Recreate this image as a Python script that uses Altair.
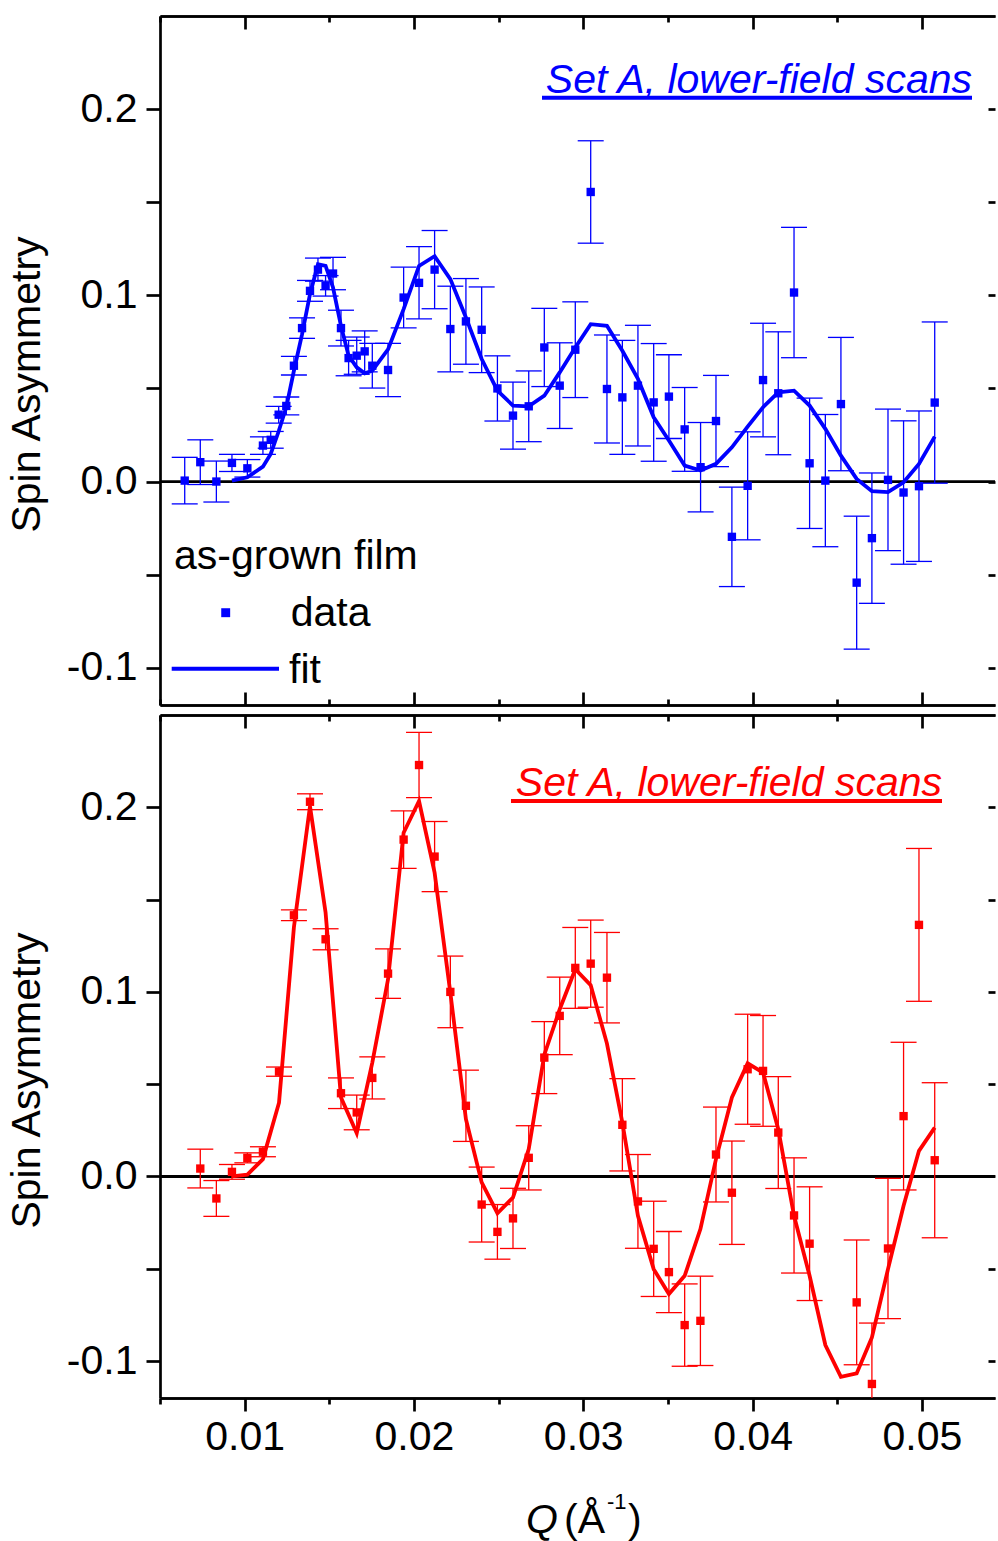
import altair as alt
import pandas as pd

# ---------------- as-grown film (top panel) ----------------
q_a = [0.00646, 0.00738, 0.00833, 0.00925, 0.01016, 0.01108, 0.01154, 0.01201,
       0.01246, 0.01291, 0.01339, 0.01386, 0.01433, 0.01478, 0.01522, 0.01569,
       0.01614, 0.01662, 0.01709, 0.01754, 0.01847, 0.01939, 0.02030, 0.02122,
       0.02215, 0.02307, 0.02400, 0.02493, 0.02585, 0.02678, 0.02770, 0.02861,
       0.02953, 0.03044, 0.03140, 0.03231, 0.03323, 0.03416, 0.03506, 0.03599,
       0.03693, 0.03784, 0.03878, 0.03971, 0.04062, 0.04152, 0.04245, 0.04337,
       0.04430, 0.04522, 0.04615, 0.04705, 0.04800, 0.04892, 0.04983, 0.05076]
sa_a = [0.0005, 0.0104, 0.0000, 0.0100, 0.0071, 0.0193, 0.0224, 0.0359,
        0.0406, 0.0622, 0.0824, 0.1024, 0.1138, 0.1051, 0.1117, 0.0824,
        0.0663, 0.0676, 0.0699, 0.0622, 0.0599, 0.0988, 0.1067, 0.1138,
        0.0819, 0.0860, 0.0815, 0.0500, 0.0354, 0.0404, 0.0720, 0.0515,
        0.0708, 0.1555, 0.0497, 0.0452, 0.0515, 0.0425, 0.0456, 0.0280,
        0.0077, 0.0325, -0.0297, -0.0023, 0.0545, 0.0474, 0.1015, 0.0098,
        0.0005, 0.0416, -0.0543, -0.0304, 0.0009, -0.0059, -0.0025, 0.0424]
err_a = [0.0125, 0.0120, 0.0110, 0.0046, 0.0047, 0.0047, 0.0045, 0.0045,
         0.0048, 0.0050, 0.0055, 0.0056, 0.0062, 0.0055, 0.0087, 0.0096,
         0.0095, 0.0100, 0.0110, 0.0120, 0.0143, 0.0163, 0.0194, 0.0210,
         0.0230, 0.0230, 0.0230, 0.0175, 0.0180, 0.0190, 0.0210, 0.0230,
         0.0257, 0.0275, 0.0290, 0.0306, 0.0324, 0.0316, 0.0225, 0.0225,
         0.0240, 0.0245, 0.0267, 0.0290, 0.0305, 0.0330, 0.0350, 0.0350,
         0.0355, 0.0358, 0.0357, 0.0350, 0.0380, 0.0385, 0.0404, 0.0433]
q_fit_a = q_a[3:]
fit_a = [0.0005, 0.0023, 0.0080, 0.0148, 0.0270, 0.0400, 0.0595, 0.0790,
         0.1006, 0.1167, 0.1158, 0.1042, 0.0836, 0.0676, 0.0613, 0.0581,
         0.0595, 0.0710, 0.0926, 0.1158, 0.1210, 0.1087, 0.0881, 0.0658,
         0.0488, 0.0408, 0.0404, 0.0461, 0.0586, 0.0720, 0.0845, 0.0836,
         0.0702, 0.0551, 0.0345, 0.0220, 0.0086, 0.0059, 0.0095, 0.0184,
         0.0295, 0.0399, 0.0479, 0.0488, 0.0408, 0.0283, 0.0139, 0.0014,
         -0.0052, -0.0057, -0.0004, 0.0095, 0.0241]

# ---------------- second data set (bottom panel) ----------------
q_b = [0.00738, 0.00833, 0.00925, 0.01016, 0.01108, 0.01203, 0.01291, 0.01386,
       0.01478, 0.01569, 0.01662, 0.01754, 0.01847, 0.01939, 0.02030, 0.02122,
       0.02215, 0.02307, 0.02400, 0.02493, 0.02585, 0.02678, 0.02770, 0.02861,
       0.02953, 0.03044, 0.03140, 0.03231, 0.03323, 0.03416, 0.03506, 0.03599,
       0.03692, 0.03784, 0.03878, 0.03971, 0.04062, 0.04152, 0.04245, 0.04337,
       0.04615, 0.04705, 0.04800, 0.04892, 0.04983, 0.05076]
sa_b = [0.0043, -0.0119, 0.0025, 0.0101, 0.0134, 0.0568, 0.1415, 0.2030,
        0.1285, 0.0451, 0.0347, 0.0534, 0.1099, 0.1825, 0.2229, 0.1733,
        0.1000, 0.0383, -0.0152, -0.0300, -0.0227, 0.0101, 0.0644, 0.0870,
        0.1130, 0.1153, 0.1077, 0.0280, -0.0135, -0.0392, -0.0518, -0.0805,
        -0.0782, 0.0119, -0.0088, 0.0581, 0.0572, 0.0238, -0.0211, -0.0364,
        -0.0682, -0.1124, -0.0390, 0.0327, 0.1363, 0.0088]
err_b = [0.0105, 0.0097, 0.0040, 0.0027, 0.0027, 0.0025, 0.0029, 0.0043,
         0.0057, 0.0083, 0.0094, 0.0114, 0.0134, 0.0156, 0.0177, 0.0190,
         0.0194, 0.0193, 0.0203, 0.0148, 0.0163, 0.0174, 0.0195, 0.0210,
         0.0219, 0.0236, 0.0245, 0.0250, 0.0254, 0.0258, 0.0220, 0.0223,
         0.0242, 0.0257, 0.0280, 0.0298, 0.0300, 0.0303, 0.0312, 0.0308,
         0.0338, 0.0330, 0.0380, 0.0400, 0.0414, 0.0420]
q_fit_b = [0.00925, 0.01016, 0.01108, 0.01203, 0.01291, 0.01386, 0.01478, 0.01569,
           0.01662, 0.01754, 0.01847, 0.01939, 0.02030, 0.02122, 0.02215, 0.02307,
           0.02400, 0.02493, 0.02585, 0.02678, 0.02770, 0.02861, 0.02953, 0.03044,
           0.03140, 0.03231, 0.03323, 0.03416, 0.03506, 0.03599, 0.03692, 0.03784,
           0.03878, 0.03971, 0.04062, 0.04152, 0.04245, 0.04337, 0.04430, 0.04522,
           0.04615, 0.04705, 0.04800, 0.04892, 0.04983, 0.05076]
fit_b = [0.0000, 0.0010, 0.0094, 0.0400, 0.1350, 0.2005, 0.1430, 0.0428,
         0.0235, 0.0617, 0.1068, 0.1862, 0.2034, 0.1646, 0.0996, 0.0310,
         -0.0032, -0.0199, -0.0114, 0.0148, 0.0660, 0.0906, 0.1123, 0.1036,
         0.0720, 0.0292, -0.0213, -0.0502, -0.0637, -0.0538, -0.0285, 0.0094,
         0.0428, 0.0613, 0.0563, 0.0256, -0.0213, -0.0538, -0.0913, -0.1085,
         -0.1067, -0.0872, -0.0502, -0.0159, 0.0139, 0.0265]

# axis ticks
X_MAJOR = [0.01, 0.02, 0.03, 0.04, 0.05]
X_MINOR = [0.005, 0.015, 0.025, 0.035, 0.045]
Y_TICKS = [-0.1, -0.05, 0.0, 0.05, 0.1, 0.15, 0.2]

# styling / geometry
FONT = "Liberation Sans"
FS = 41
BLUE = "#0000ff"
RED = "#ff0000"
W = 835
PX_PER_Q = 16930.0
X_DOM = [0.005, 0.005 + W / PX_PER_Q]
Y_DOM = [-0.12, 0.25]
H_TOP, H_BOT = 689, 683
AXW = 2.7

one = pd.DataFrame({"k": [0]})


def xs():
    return alt.Scale(domain=X_DOM, nice=False, zero=False)


def ys():
    return alt.Scale(domain=Y_DOM, nice=False, zero=False)


def frame_axis(orient, values, size, offset=0, domain=True, **kw):
    base = dict(orient=orient, values=values, tickSize=size, offset=offset,
                labels=False, title=None, grid=False, domain=domain,
                domainColor="black", domainWidth=AXW, tickColor="black",
                tickWidth=AXW)
    base.update(kw)
    return alt.Axis(**base)


def text(t, x, y, size=FS, color="black", italic=False, align="left"):
    return alt.Chart(one).mark_text(
        text=t, font=FONT, fontSize=size, color=color, align=align,
        baseline="alphabetic", fontStyle="italic" if italic else "normal"
    ).encode(x=alt.value(x), y=alt.value(y))


def hline(x1, x2, y, color, width):
    return alt.Chart(one).mark_rule(color=color, strokeWidth=width).encode(
        x=alt.value(x1), x2=alt.value(x2), y=alt.value(y))


def panel(q, sa, err, q_fit, fit, color, height, labelled_x, extras):
    pts = pd.DataFrame({"Q": q, "SA": sa,
                        "lo": [s - e for s, e in zip(sa, err)],
                        "hi": [s + e for s, e in zip(sa, err)]})
    caps = pd.DataFrame({"Q": list(q) * 2,
                         "SA": list(pts["lo"]) + list(pts["hi"])})
    fit_df = pd.DataFrame({"Q": q_fit, "SA": fit})

    left_axis = alt.Axis(
        orient="left", values=Y_TICKS, tickSize=14, labelPadding=9,
        labelExpr="round(datum.value*20) % 2 == 0 ? "
                  "replace(format(datum.value, '.1f'), '\u2212', '-') : ''",
        labelFont=FONT, labelFontSize=FS, labelColor="black",
        title="Spin Asymmetry", titleFont=FONT, titleFontSize=FS,
        titleFontWeight="normal", titleColor="black", titleAngle=270,
        titleX=-121, titleY=height / 2 + 23.5, titleBaseline="alphabetic",
        titleAlign="center", grid=False, domainColor="black",
        domainWidth=AXW, tickColor="black", tickWidth=AXW)
    right_axis = frame_axis("left", Y_TICKS, 7, offset=-W, domain=False)
    top_major = frame_axis("bottom", X_MAJOR, 13, offset=-height)
    top_minor = frame_axis("bottom", X_MINOR, 6, offset=-height)
    if labelled_x:
        bot_major = frame_axis("bottom", X_MAJOR, 13, labels=True,
                               labelExpr="format(datum.value, '.2f')",
                               labelFont=FONT, labelFontSize=FS,
                               labelColor="black", labelPadding=6)
        bot_minor = frame_axis("bottom", X_MINOR, 6)
    else:
        bot_major = frame_axis("top", X_MAJOR, 13, offset=-height)
        bot_minor = frame_axis("top", X_MINOR, 6, offset=-height)

    zero = alt.Chart(one).mark_rule(color="black", strokeWidth=2.8).encode(
        y=alt.Y("datum_zero:Q", scale=ys(), axis=left_axis)
    ).transform_calculate(datum_zero="0")

    bars = alt.Chart(pts).mark_rule(color=color, strokeWidth=1.3, clip=True).encode(
        x=alt.X("Q:Q", scale=xs(), axis=top_major),
        y=alt.Y("lo:Q", scale=ys(), axis=right_axis),
        y2="hi:Q")

    cap = alt.Chart(caps).mark_tick(color=color, orient="horizontal", size=26,
                                    thickness=1.3, opacity=1, clip=True).encode(
        x=alt.X("Q:Q", scale=xs(), axis=top_minor),
        y=alt.Y("SA:Q", scale=ys(), axis=None))

    line = alt.Chart(fit_df).mark_line(color=color, strokeWidth=3.8, clip=True).encode(
        x=alt.X("Q:Q", scale=xs(), axis=bot_major),
        y=alt.Y("SA:Q", scale=ys(), axis=None))

    dots = alt.Chart(pts).mark_square(color=color, size=70, opacity=1, clip=True).encode(
        x=alt.X("Q:Q", scale=xs(), axis=bot_minor),
        y=alt.Y("SA:Q", scale=ys(), axis=None))

    return alt.layer(zero, bars, cap, line, dots, *extras).resolve_axis(
        x="independent", y="independent").properties(width=W, height=height)


top_extras = [
    text("Set A, lower-field scans", 812, 76.5, color=BLUE, italic=True, align="right"),
    hline(382, 812, 81.7, BLUE, 4),
    text("as-grown film", 14, 553),
    alt.Chart(one).mark_square(color=BLUE, size=80, opacity=1).encode(
        x=alt.value(65.7), y=alt.value(596.7)),
    text("data", 130.7, 610),
    hline(11.7, 119, 652.7, BLUE, 4),
    text("fit", 129, 666.7),
]

bot_extras = [
    text("Set A, lower-field scans", 782, 80.5, color=RED, italic=True, align="right"),
    hline(351, 782, 86, RED, 4),
    text("Q", 366, 818, italic=True),
    text("(Å", 404, 818),
    text("-1", 447, 794, size=22),
    text(")", 468, 818),
]

top = panel(q_a, sa_a, err_a, q_fit_a, fit_a, BLUE, H_TOP, False, top_extras)
bottom = panel(q_b, sa_b, err_b, q_fit_b, fit_b, RED, H_BOT, True, bot_extras)

chart = alt.vconcat(top, bottom, spacing=6).properties(
    padding={"left": 6, "top": 14, "right": 0, "bottom": 0}
).configure_view(stroke=None)

chart.save("out.html", embed_options={"renderer": "svg", "actions": False})
